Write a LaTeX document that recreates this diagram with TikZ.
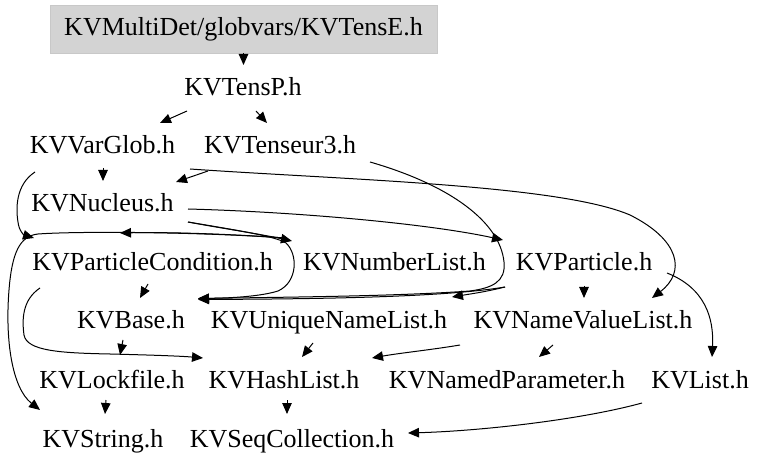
\documentclass[tikz,border=0pt]{standalone}
\usepackage{fontspec}
\setmainfont{Liberation Serif}
\usetikzlibrary{arrows.meta}
\definecolor{boxfill}{RGB}{211,211,211}
\definecolor{boxline}{RGB}{200,200,200}
\begin{document}
\begin{tikzpicture}[x=1bp,y=-1bp,
  lbl/.style={inner sep=0pt, text height=18bp, text depth=5.5bp, font=\fontsize{26bp}{30bp}\selectfont},
  e/.style={line width=1bp, -{Triangle[length=11bp,width=9.5bp]}}]
\useasboundingbox[fill=white] (0,0) rectangle (768,469);
% nodes
\node[lbl, fill=boxfill, draw=boxline, minimum width=387bp, minimum height=48bp] (tense) at (243.5,29) {KVMultiDet/globvars/KVTensE.h};
\node[lbl] (tensp) at (243,89.5) {KVTensP.h};
\node[lbl] (varglob) at (102.5,147.75) {KVVarGlob.h};
\node[lbl] (tenseur3) at (280,147.75) {KVTenseur3.h};
\node[lbl] (nucleus) at (102.5,205.75) {KVNucleus.h};
\node[lbl] (pcond) at (152.5,264.75) {KVParticleCondition.h};
\node[lbl] (numlist) at (394.5,264.75) {KVNumberList.h};
\node[lbl] (particle) at (584,264.75) {KVParticle.h};
\node[lbl] (base) at (131,322.75) {KVBase.h};
\node[lbl] (uniq) at (329,322.75) {KVUniqueNameList.h};
\node[lbl] (nvl) at (583,322.75) {KVNameValueList.h};
\node[lbl] (lock) at (112,381.75) {KVLockfile.h};
\node[lbl] (hash) at (284,381.75) {KVHashList.h};
\node[lbl] (namedpar) at (507,381.75) {KVNamedParameter.h};
\node[lbl] (list) at (700,381.75) {KVList.h};
\node[lbl] (string) at (103,440.75) {KVString.h};
\node[lbl] (seq) at (292,440.75) {KVSeqCollection.h};
% edges
\draw[e] (tense.south) -- ([shift={(0.5,-24.5)}]tensp.center);
\draw[e] ([shift={(-56,21.5)}]tensp.center) -- ([shift={(57.5,-24.75)}]varglob.center);
\draw[e] ([shift={(13,21.5)}]tensp.center) -- ([shift={(-13,-24.75)}]tenseur3.center);
\draw[e] ([shift={(0.5,20.25)}]varglob.center) -- ([shift={(0.5,-24.75)}]nucleus.center);
\draw[e] ([shift={(-72,23.25)}]tenseur3.center) -- ([shift={(73.5,-23.75)}]nucleus.center);
\draw[e] ([shift={(87.5,21.25)}]varglob.center) .. controls (350,180) and (560,185) .. (630,215)
  .. controls (680,240) and (686,272) .. ([shift={(69,-24.75)}]nvl.center);
\draw[e] ([shift={(90,14.25)}]tenseur3.center) .. controls (450,185) and (500,222) .. (504,262)
  .. controls (506,282) and (492,288) .. (470,291)
  .. controls (400,296) and (300,297) .. ([shift={(67,-24.25)}]base.center);
\draw[e] ([shift={(-67.5,24.25)}]varglob.center) .. controls (15,185) and (16,210) .. (18,222)
  .. controls (19,231) and (24,235) .. ([shift={(-118.5,-26.75)}]pcond.center);
\draw[e] ([shift={(-109.5,-26.75)}]numlist.center) .. controls (200,232) and (80,231) .. (38,234)
  .. controls (20,236) and (12,252) .. (9,290)
  .. controls (5,340) and (12,388) .. ([shift={(-63,-30.75)}]string.center);
\draw[e] ([shift={(-109.5,-26.75)}]numlist.center) .. controls (230,234) and (170,232) .. ([shift={(-32.5,-31.75)}]pcond.center);
\draw[e] ([shift={(85.5,16.25)}]nucleus.center) .. controls (220,228) and (260,234) .. ([shift={(-102.5,-23.75)}]numlist.center);
\draw[e] ([shift={(85.5,16.25)}]nucleus.center) .. controls (235,230) and (275,236) .. (286,243)
  .. controls (298,254) and (298,282) .. (278,291)
  .. controls (262,296) and (235,298) .. ([shift={(67,-24.25)}]base.center);
\draw[e] ([shift={(85.5,3.25)}]nucleus.center) .. controls (300,212) and (430,224) .. ([shift={(-81,-24.75)}]particle.center);
\draw[e] ([shift={(-4.5,19.25)}]pcond.center) -- ([shift={(9,-24.75)}]base.center);
\draw[e] ([shift={(0,21.25)}]particle.center) -- ([shift={(1,-24.75)}]nvl.center);
\draw[e] ([shift={(83,8.25)}]particle.center) .. controls (705,288) and (714,318) .. ([shift={(12,-24.75)}]list.center);
\draw[e] ([shift={(-79,22.25)}]particle.center) .. controls (485,292) and (470,294) .. ([shift={(123,-25.75)}]uniq.center);
\draw[e] ([shift={(-79,22.25)}]particle.center) .. controls (440,298) and (300,299) .. ([shift={(67,-23.25)}]base.center);
\draw[e] ([shift={(-112.5,23.25)}]pcond.center) .. controls (22,300) and (22,320) .. (24,335)
  .. controls (27,351) and (60,353) .. (110,354)
  .. controls (150,355) and (180,356) .. ([shift={(-81,-23.75)}]hash.center);
\draw[e] ([shift={(-8,17.25)}]base.center) -- ([shift={(8,-26.75)}]lock.center);
\draw[e] ([shift={(-16,20.25)}]uniq.center) -- ([shift={(18,-24.75)}]hash.center);
\draw[e] ([shift={(-123,22.25)}]nvl.center) .. controls (430,350) and (400,353) .. ([shift={(88,-23.75)}]hash.center);
\draw[e] ([shift={(-30,22.25)}]nvl.center) -- ([shift={(32,-24.75)}]namedpar.center);
\draw[e] ([shift={(-58,21.25)}]list.center) .. controls (580,420) and (480,431) .. ([shift={(116,-7.75)}]seq.center);
\draw[e] ([shift={(-6,18.25)}]lock.center) -- ([shift={(2,-26.75)}]string.center);
\draw[e] ([shift={(3,18.25)}]hash.center) -- ([shift={(-5,-26.75)}]seq.center);
\end{tikzpicture}
\end{document}
